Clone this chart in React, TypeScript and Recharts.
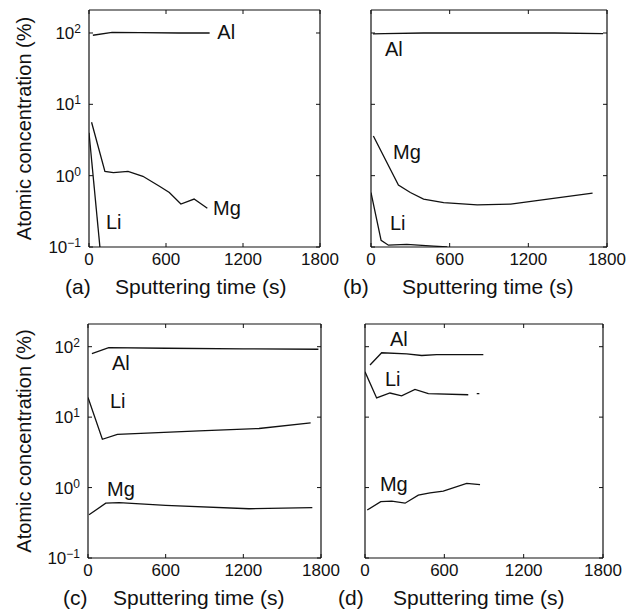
import React from "react";
import { LineChart, Line, XAxis, YAxis, Label, ReferenceDot } from "recharts";

const FONT = "'Liberation Sans', Arial, Helvetica, sans-serif";
const INK = "#111";

const X_TICKS = [0, 600, 1200, 1800];
const Y_TICKS = [0.1, 1, 10, 100];
const Y_DOMAIN = [0.1, 210];

// (a) sputtering time (s) / atomic concentration (%)
const aAlTime = [30, 180, 400, 700, 940];
const aAlConc = [93, 102, 101, 100, 100];
const aMgTime = [20, 124, 190, 304, 420, 549, 626, 716, 819, 922];
const aMgConc = [5.6, 1.15, 1.1, 1.15, 0.98, 0.71, 0.58, 0.4, 0.47, 0.35];
const aLiTime = [0, 85];
const aLiConc = [4, 0.1];

// (b)
const bAlTime = [15, 100, 400, 900, 1400, 1770];
const bAlConc = [97, 98, 100, 100, 100, 98];
const bMgTime = [18, 209, 300, 401, 554, 810, 1065, 1320, 1690];
const bMgConc = [3.6, 0.74, 0.58, 0.47, 0.42, 0.39, 0.4, 0.46, 0.57];
const bLiTime = [0, 77, 133, 273, 477, 582];
const bLiConc = [0.58, 0.124, 0.106, 0.109, 0.103, 0.1];

// (c)
const cAlTime = [30, 160, 600, 1200, 1780];
const cAlConc = [80, 97, 95, 93, 92];
const cLiTime = [0, 111, 227, 858, 1321, 1720];
const cLiConc = [19, 4.85, 5.7, 6.4, 6.9, 8.3];
const cMgTime = [8, 137, 240, 600, 1244, 1733];
const cMgConc = [0.41, 0.6, 0.61, 0.56, 0.5, 0.52];

// (d) -- Li has a short gap before its last reading
const dAlTime = [38, 126, 315, 429, 542, 895];
const dAlConc = [55, 82, 79, 75, 77, 77];
const dLiTime = [0, 88, 189, 277, 378, 479, 781, 815, 845, 865];
const dLiConc = [44, 18.7, 22, 20, 24.8, 21.6, 20.8, null, 21.5, 21.5];
const dMgTime = [17, 119, 202, 303, 403, 492, 592, 769, 870];
const dMgConc = [0.48, 0.63, 0.64, 0.6, 0.78, 0.84, 0.89, 1.15, 1.1];

// element labels, anchored at (time, concentration)
const aNotes = [
  { text: "Al", t: 1000, v: 104 },
  { text: "Mg", t: 966, v: 0.35 },
  { text: "Li", t: 132, v: 0.224 },
];
const bNotes = [
  { text: "Al", t: 107, v: 60 },
  { text: "Mg", t: 168, v: 2.15 },
  { text: "Li", t: 145, v: 0.217 },
];
const cNotes = [
  { text: "Al", t: 185, v: 59 },
  { text: "Li", t: 170, v: 17.2 },
  { text: "Mg", t: 147, v: 0.95 },
];
const dNotes = [
  { text: "Al", t: 189, v: 129 },
  { text: "Li", t: 151, v: 35 },
  { text: "Mg", t: 113, v: 1.11 },
];

type Pt = { t: number; v: number | null };
const zip = (t: number[], v: (number | null)[]): Pt[] =>
  t.map((x, i) => ({ t: x, v: v[i] }));

const NoLabel = () => <g />;

function PowerTick(props: any) {
  const { x, y, payload } = props;
  const exp = Math.round(Math.log10(payload.value));
  const expText = exp < 0 ? `\u2212${-exp}` : String(exp);
  return (
    <text x={x} y={y} textAnchor="end" fill={INK} fontFamily={FONT} fontSize={17}>
      <tspan dy="0.36em">10</tspan>
      <tspan dy={-6} fontSize={12}>
        {expText}
      </tspan>
    </text>
  );
}

function YTitle(props: any) {
  const vb = props.viewBox;
  const cx = vb.x + 24;
  const cy = vb.y + vb.height / 2;
  return (
    <text
      x={cx}
      y={cy}
      transform={`rotate(-90 ${cx} ${cy})`}
      textAnchor="middle"
      dominantBaseline="central"
      fill={INK}
      fontFamily={FONT}
      fontSize={20}
    >
      Atomic concentration (%)
    </text>
  );
}

function Panel({
  left,
  top,
  width,
  height,
  margin,
  yWidth,
  xHeight,
  letter,
  letterDx,
  titleDx,
  showY,
  series,
  notes,
}: {
  left: number;
  top: number;
  width: number;
  height: number;
  margin: { top: number; right: number; left: number; bottom: number };
  yWidth: number;
  xHeight: number;
  letter: string;
  letterDx: number;
  titleDx: number;
  showY: boolean;
  series: Pt[][];
  notes: { text: string; t: number; v: number }[];
}) {
  const caption = (p: any) => {
    const { x, y } = p.viewBox;
    return (
      <g fontFamily={FONT} fontSize={21} fill={INK}>
        <text x={x + letterDx} y={y + 39} dominantBaseline="central">
          ({letter})
        </text>
        <text x={x + titleDx} y={y + 39} dominantBaseline="central">
          Sputtering time (s)
        </text>
      </g>
    );
  };
  const axisLine = { stroke: INK, strokeWidth: 1.2 };
  return (
    <div style={{ position: "absolute", left, top }}>
      <LineChart width={width} height={height} margin={margin}>
        <XAxis
          xAxisId="b"
          type="number"
          dataKey="t"
          domain={[0, 1800]}
          ticks={X_TICKS}
          allowDataOverflow
          height={xHeight}
          tickSize={-4}
          tickMargin={10}
          tick={{ fontSize: 17, fill: INK, fontFamily: FONT }}
          axisLine={axisLine}
          tickLine={{ stroke: INK }}
        >
          <Label content={caption} />
        </XAxis>
        <XAxis
          xAxisId="t"
          orientation="top"
          mirror
          type="number"
          dataKey="t"
          domain={[0, 1800]}
          ticks={X_TICKS}
          allowDataOverflow
          tickSize={4}
          tick={NoLabel}
          axisLine={axisLine}
          tickLine={{ stroke: INK }}
        />
        <YAxis
          yAxisId="l"
          type="number"
          scale="log"
          domain={Y_DOMAIN}
          allowDataOverflow
          ticks={Y_TICKS}
          width={yWidth}
          tickSize={-4}
          tickMargin={12}
          tick={showY ? PowerTick : NoLabel}
          axisLine={axisLine}
          tickLine={{ stroke: INK }}
        >
          {showY && <Label content={YTitle} />}
        </YAxis>
        <YAxis
          yAxisId="r"
          orientation="right"
          mirror
          type="number"
          scale="log"
          domain={Y_DOMAIN}
          allowDataOverflow
          ticks={Y_TICKS}
          tickSize={4}
          tick={NoLabel}
          axisLine={axisLine}
          tickLine={{ stroke: INK }}
        />
        {series.map((d, i) => (
          <Line
            key={i}
            xAxisId="b"
            yAxisId="l"
            data={d}
            dataKey="v"
            type="linear"
            stroke={INK}
            strokeWidth={1.3}
            dot={false}
            activeDot={false}
            connectNulls={false}
            isAnimationActive={false}
          />
        ))}
        {notes.map((n) => (
          <ReferenceDot
            key={n.text}
            xAxisId="b"
            yAxisId="l"
            x={n.t}
            y={n.v}
            r={0}
            fill="none"
            stroke="none"
            label={{
              value: n.text,
              position: "right",
              offset: 0,
              fill: INK,
              fontSize: 20,
              fontFamily: FONT,
            }}
          />
        ))}
      </LineChart>
    </div>
  );
}

export default function App() {
  return (
    <div
      style={{
        position: "absolute",
        left: 0,
        top: 0,
        width: 633,
        height: 616,
        background: "#fff",
        overflow: "hidden",
      }}
    >
      <Panel
        left={0}
        top={0}
        width={345}
        height={300}
        margin={{ top: 10, right: 25, left: 0, bottom: 0 }}
        yWidth={89}
        xHeight={53}
        letter="a"
        letterDx={-24}
        titleDx={26}
        showY
        series={[zip(aAlTime, aAlConc), zip(aMgTime, aMgConc), zip(aLiTime, aLiConc)]}
        notes={aNotes}
      />
      <Panel
        left={330}
        top={0}
        width={303}
        height={300}
        margin={{ top: 10, right: 26, left: 0, bottom: 0 }}
        yWidth={41}
        xHeight={53}
        letter="b"
        letterDx={-28}
        titleDx={31}
        showY={false}
        series={[zip(bAlTime, bAlConc), zip(bMgTime, bMgConc), zip(bLiTime, bLiConc)]}
        notes={bNotes}
      />
      <Panel
        left={0}
        top={300}
        width={345}
        height={316}
        margin={{ top: 24, right: 24, left: 0, bottom: 0 }}
        yWidth={88}
        xHeight={58}
        letter="c"
        letterDx={-25}
        titleDx={25}
        showY
        series={[zip(cAlTime, cAlConc), zip(cLiTime, cLiConc), zip(cMgTime, cMgConc)]}
        notes={cNotes}
      />
      <Panel
        left={330}
        top={300}
        width={303}
        height={316}
        margin={{ top: 24, right: 30, left: 0, bottom: 0 }}
        yWidth={35}
        xHeight={58}
        letter="d"
        letterDx={-27}
        titleDx={28}
        showY={false}
        series={[zip(dAlTime, dAlConc), zip(dLiTime, dLiConc), zip(dMgTime, dMgConc)]}
        notes={dNotes}
      />
    </div>
  );
}
